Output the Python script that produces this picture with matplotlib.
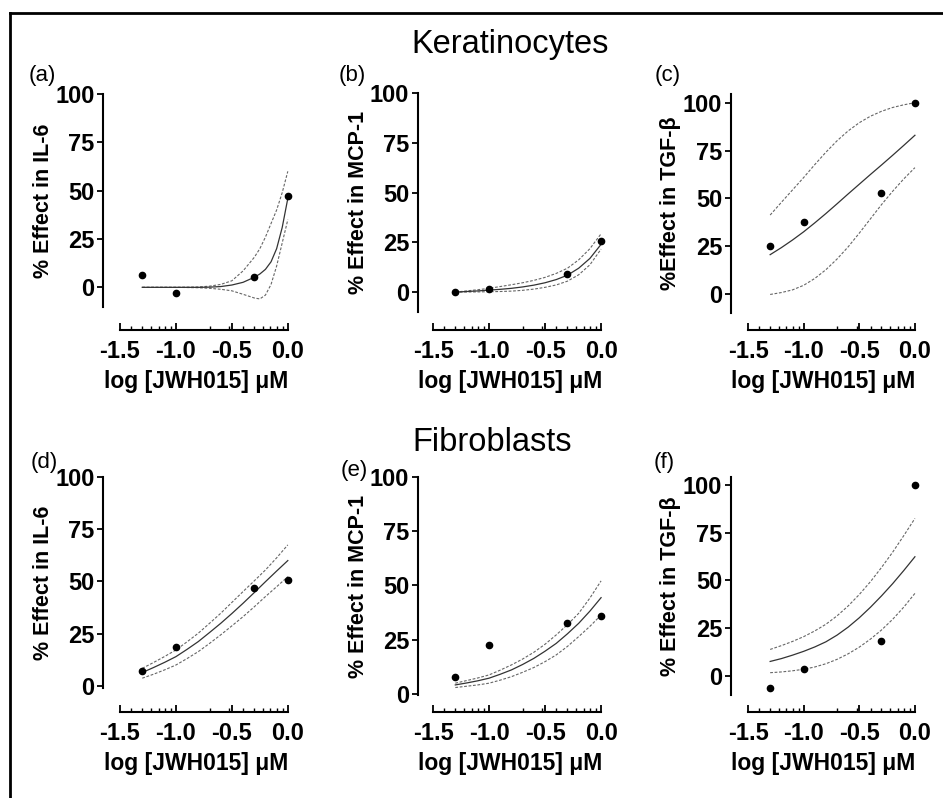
import numpy as np
import matplotlib.pyplot as plt
from matplotlib.lines import Line2D

plt.rcParams['font.family'] = ['Liberation Sans', 'DejaVu Sans']

# measured doses (log uM) and % effect
dose = [-1.301, -1.0, -0.301, 0.0]

a_pts = [6.2, -2.9, 5.2, 47.1]
b_pts = [0.0, 1.8, 9.0, 25.5]
c_pts = [25.0, 37.7, 53.1, 100.0]
d_pts = [7.2, 18.8, 47.0, 50.6]
e_pts = [7.8, 22.5, 32.9, 36.0]
f_pts = [-6.3, 3.7, 18.4, 100.0]

# fitted curves with 95% bands
a_x = [-1.301, -1.0, -0.8, -0.7, -0.6, -0.5, -0.4, -0.3, -0.25, -0.2, -0.15, -0.1, -0.05, 0.0]
a_mid = [0, 0, 0, 0.1, 0.4, 1.2, 2.6, 5.2, 6.9, 9.3, 13.2, 20.0, 31.0, 46.0]
a_up = [0, 0, 0.2, 0.6, 1.5, 3.4, 8.5, 15.5, 20.0, 26.0, 33.0, 40.0, 49.0, 60.0]
a_lo = [0, 0, -0.2, -0.5, -1.0, -1.8, -3.6, -5.5, -6.0, -4.0, 1.5, 11.0, 23.0, 35.0]

fit_x = [-1.301, -1.2, -1.1, -1.0, -0.9, -0.8, -0.7, -0.6, -0.5, -0.4, -0.3, -0.2, -0.1, 0.0]

b_mid = [0, 0.3, 0.6, 1.0, 1.4, 1.9, 2.6, 3.5, 4.7, 6.3, 8.5, 12.0, 16.9, 24.0]
b_up = [0, 0.6, 1.2, 1.9, 2.8, 3.7, 4.7, 5.9, 7.4, 9.4, 12.0, 16.2, 21.8, 29.3]
b_lo = [0, 0.05, 0.1, 0.2, 0.3, 0.5, 0.9, 1.5, 2.4, 3.6, 5.5, 8.7, 13.7, 21.6]

c_mid = [20.5, 24.2, 28.2, 32.5, 37.2, 42.1, 47.2, 52.4, 57.5, 62.6, 67.6, 72.7, 77.9, 83.2]
c_up = [41.3, 48.0, 54.5, 61.0, 67.8, 74.3, 80.3, 85.5, 89.8, 93.2, 95.8, 97.8, 99.2, 100.3]
c_lo = [-0.4, 0.6, 2.0, 4.4, 8.0, 12.6, 18.2, 24.6, 31.8, 39.3, 46.8, 53.8, 60.3, 66.2]

d_mid = [6.4, 8.8, 11.3, 14.0, 17.5, 21.2, 25.5, 29.9, 34.6, 39.5, 44.6, 49.8, 54.9, 59.9]
d_up = [8.4, 11.2, 14.1, 17.2, 21.1, 25.2, 29.9, 34.7, 39.9, 45.1, 50.2, 55.4, 61.2, 67.4]
d_lo = [3.7, 5.6, 7.7, 10.0, 13.1, 16.4, 20.3, 24.4, 28.7, 33.1, 37.8, 42.7, 47.4, 52.2]

e_mid = [4.3, 5.2, 6.2, 7.4, 9.2, 11.2, 13.7, 16.5, 19.8, 23.4, 27.8, 32.6, 38.2, 44.4]
e_up = [5.1, 6.3, 7.5, 8.9, 11.1, 13.5, 16.2, 19.3, 23.0, 27.3, 32.0, 37.2, 44.2, 52.1]
e_lo = [3.1, 3.7, 4.3, 5.1, 6.5, 8.1, 10.1, 12.3, 15.0, 18.1, 22.0, 26.5, 31.2, 36.4]

f_mid = [7.5, 9.0, 10.8, 12.8, 15.1, 17.8, 21.3, 25.5, 30.4, 35.9, 41.9, 48.3, 55.2, 62.4]
f_up = [13.8, 15.8, 18.0, 20.5, 23.5, 27.0, 31.4, 36.6, 42.6, 49.3, 56.8, 64.8, 73.5, 82.5]
f_lo = [1.6, 2.0, 2.6, 3.4, 4.6, 6.3, 8.6, 11.5, 15.0, 19.2, 24.0, 29.6, 36.0, 43.2]

xticks = [-1.5, -1.0, -0.5, 0.0]
xticklabels = ['-1.5', '-1.0', '-0.5', '0.0']
yticks = [0, 25, 50, 75, 100]
minor = np.log10([0.04, 0.05, 0.06, 0.07, 0.08, 0.09,
                  0.2, 0.3, 0.4, 0.5, 0.6, 0.7, 0.8, 0.9])

fig = plt.figure(figsize=(9.43, 7.98), dpi=100)


def panel(rect, xlim, ylim, off, ylab, pts, fx, mid, up, lo):
    ax = fig.add_axes(rect)
    ax.plot(fx, up, color='0.4', lw=0.8, ls=(0, (2.5, 1.5)), clip_on=False)
    ax.plot(fx, lo, color='0.4', lw=0.8, ls=(0, (2.5, 1.5)), clip_on=False)
    ax.plot(fx, mid, color='0.2', lw=0.9, clip_on=False)
    ax.plot(dose, pts, 'o', color='k', ms=4.5, clip_on=False)
    ax.set_xlim(xlim)
    ax.set_ylim(ylim)
    ax.spines['top'].set_visible(False)
    ax.spines['right'].set_visible(False)
    ax.spines['left'].set_linewidth(1.5)
    ax.spines['bottom'].set_linewidth(1.5)
    ax.spines['bottom'].set_position(('outward', off))
    ax.spines['bottom'].set_bounds(-1.5, 0)
    ax.set_xticks(xticks)
    ax.set_xticklabels(xticklabels)
    ax.set_xticks(minor, minor=True)
    ax.set_yticks(yticks)
    ax.tick_params(axis='x', which='major', direction='in', length=5, width=1.3, pad=7)
    ax.tick_params(axis='x', which='minor', direction='in', length=3, width=1.0)
    ax.tick_params(axis='y', direction='out', length=4.5, width=1.3, pad=1.5)
    for t in ax.get_xticklabels() + ax.get_yticklabels():
        t.set_fontsize(17)
        t.set_fontweight('bold')
    ax.set_xlabel('log [JWH015] μM', fontsize=16.5, fontweight='bold', labelpad=5)
    ax.set_ylabel(ylab, fontsize=15.5, fontweight='bold', labelpad=1)
    return ax


panel([0.1092, 0.6157, 0.1972, 0.2665], (-1.652, 0.01), (-10, 100), 16.8,
      '% Effect in IL-6', a_pts, a_x, a_mid, a_up, a_lo)
panel([0.4429, 0.6090, 0.1957, 0.2744], (-1.637, 0.01), (-10, 100), 13,
      '% Effect in MCP-1', b_pts, fit_x, b_mid, b_up, b_lo)
panel([0.7747, 0.6081, 0.1967, 0.2744], (-1.657, 0.01), (-10, 105), 12.5,
      '%Effect in TGF-β', c_pts, fit_x, c_mid, c_up, c_lo)
panel([0.1092, 0.1378, 0.1972, 0.2649], (-1.652, 0.01), (-1, 100), 17.3,
      '% Effect in IL-6', d_pts, fit_x, d_mid, d_up, d_lo)
panel([0.4429, 0.1286, 0.1957, 0.2741], (-1.637, 0.01), (-0.5, 100), 12,
      '% Effect in MCP-1', e_pts, fit_x, e_mid, e_up, e_lo)
panel([0.7747, 0.1293, 0.1967, 0.2724], (-1.657, 0.01), (-10, 104), 12.4,
      '% Effect in TGF-β', f_pts, fit_x, f_mid, f_up, f_lo)

fig.text(0.541, 0.944, 'Keratinocytes', fontsize=23.5, ha='center', va='center')
fig.text(0.522, 0.446, 'Fibroblasts', fontsize=23.5, ha='center', va='center')

for lab, x, y in [('(a)', 0.0445, 0.906), ('(b)', 0.374, 0.906), ('(c)', 0.708, 0.906),
                  ('(d)', 0.0467, 0.420), ('(e)', 0.376, 0.410), ('(f)', 0.704, 0.421)]:
    fig.text(x, y, lab, fontsize=16, ha='center', va='center')

# frame lines on top and left edge
fig.add_artist(Line2D([0.0106, 1.0], [0.9837, 0.9837], transform=fig.transFigure, color='k', lw=2))
fig.add_artist(Line2D([0.0106, 0.0106], [0.0, 0.9837], transform=fig.transFigure, color='k', lw=2))

plt.savefig('out.png', dpi=100)
